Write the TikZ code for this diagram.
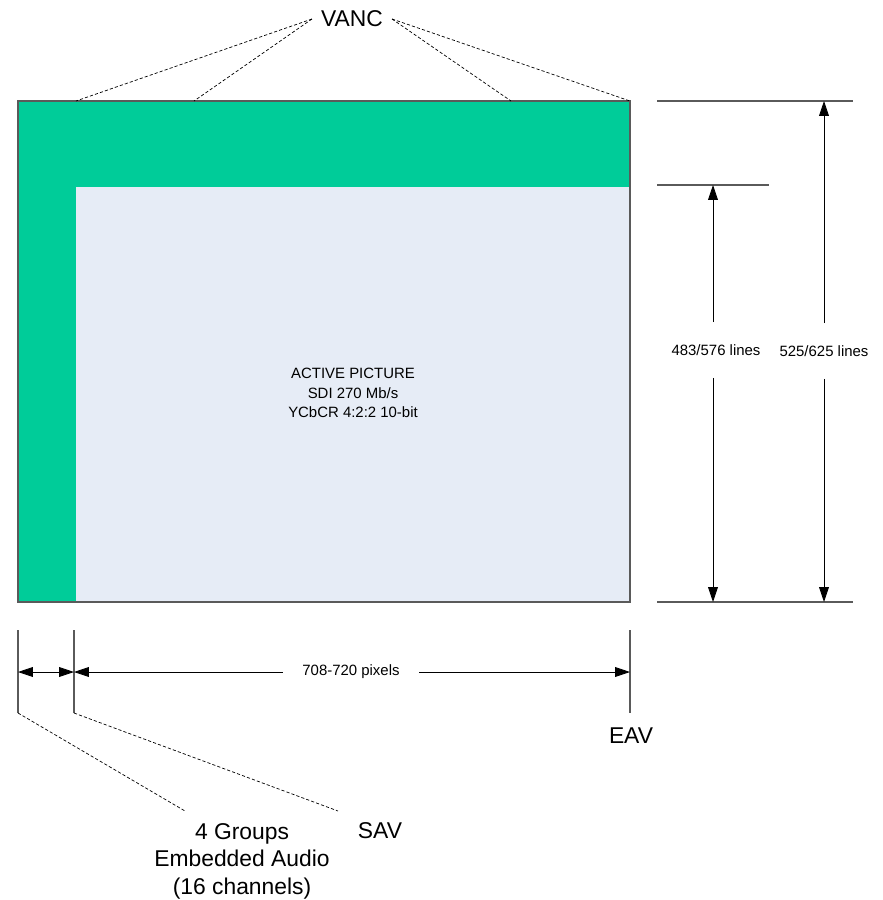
\documentclass[tikz,border=0pt]{standalone}
\usepackage{fontspec}
\setmainfont{Liberation Sans}
\usepackage{tikz}
\usetikzlibrary{arrows.meta}
\definecolor{ancgreen}{RGB}{0,204,153}
\definecolor{activeblue}{RGB}{230,236,246}
\definecolor{framegray}{RGB}{90,90,90}

\begin{document}
\begin{tikzpicture}[x=0.02cm, y=-0.02cm,
    bigtext/.style={font=\fontsize{13}{15.6}\selectfont, align=center},
    smalltext/.style={font=\fontsize{8.5}{11}\selectfont, align=center},
    vlabel/.style={smalltext, inner xsep=2pt, inner ysep=12.5pt},
    hlabel/.style={smalltext, inner xsep=11pt, inner ysep=2pt},
    leader/.style={black, line width=0.4pt, dash pattern=on 1.8pt off 1.2pt},
    extline/.style={framegray, line width=0.6pt},
    dimline/.style={black, line width=0.5pt, {Triangle[length=8.5pt,width=5.6pt]}-{Triangle[length=8.5pt,width=5.6pt]}},
    dimhalf/.style={black, line width=0.5pt, -{Triangle[length=8.5pt,width=5.6pt]}}]
    \useasboundingbox (0,0) rectangle (883,900);

    % Frame
    \fill[activeblue] (76,187) rectangle (630,602);
    \fill[ancgreen] (18,101) rectangle (630,187);
    \fill[ancgreen] (18,187) rectangle (76,601);
    \draw[framegray, line width=0.6pt] (18,101) rectangle (630,602);
    \node[smalltext] (active) at (353,393) {ACTIVE PICTURE\\SDI 270 Mb/s\\YCbCR 4:2:2 10-bit};

    % VANC
    \node[bigtext, inner sep=5pt] (vanc) at (352,19) {VANC};
    \coordinate (v1) at (76,101);
    \coordinate (v2) at (194,101);
    \coordinate (v3) at (511,101);
    \coordinate (v4) at (630,101);
    \draw[leader] (vanc.west) -- (v1);
    \draw[leader] (vanc.west) -- (v2);
    \draw[leader] (vanc.east) -- (v3);
    \draw[leader] (vanc.east) -- (v4);

    % Lines
    \coordinate (topR) at (657,101);
    \coordinate (topRend) at (853,101);
    \coordinate (actR) at (657,185);
    \coordinate (actRend) at (769,185);
    \coordinate (botR) at (657,602);
    \coordinate (botRend) at (853,602);
    \draw[extline] (topR) -- (topRend);
    \draw[extline] (actR) -- (actRend);
    \draw[extline] (botR) -- (botRend);

    \node[vlabel] (lines483) at (716,350) {483/576 lines};
    \node[vlabel] (lines525) at (824,351) {525/625 lines};
    \coordinate (d483t) at (713,185);
    \coordinate (d483b) at (713,602);
    \coordinate (d525t) at (824,101);
    \coordinate (d525b) at (824,602);
    \draw[dimhalf] (lines483.north -| d483t) -- (d483t);
    \draw[dimhalf] (lines483.south -| d483b) -- (d483b);
    \draw[dimhalf] (lines525.north -| d525t) -- (d525t);
    \draw[dimhalf] (lines525.south -| d525b) -- (d525b);

    % Pixels
    \coordinate (tA) at (18,630);
    \coordinate (tAb) at (18,713);
    \coordinate (tB) at (74,630);
    \coordinate (tBb) at (74,713);
    \coordinate (tC) at (630,630);
    \coordinate (tCb) at (630,713);
    \draw[extline] (tA) -- (tAb);
    \draw[extline] (tB) -- (tBb);
    \draw[extline] (tC) -- (tCb);

    \coordinate (a0) at (18,672);
    \coordinate (a1) at (74,672);
    \coordinate (a2) at (630,672);
    \draw[dimline] (a0) -- (a1);
    \node[hlabel] (pixels) at (351,672) {708-720 pixels};
    \draw[dimhalf] (pixels.west |- a1) -- (a1);
    \draw[dimhalf] (pixels.east |- a2) -- (a2);

    % EAV, SAV, audio
    \node[bigtext] (eav) at (631,736) {EAV};
    \node[bigtext] (sav) at (380,831) {SAV};
    \node[bigtext] (audio) at (242,861) {4 Groups\\Embedded Audio\\(16 channels)};
    \coordinate (audioTip) at (185,811);
    \coordinate (savTip) at (338,811);
    \draw[leader] (tAb) -- (audioTip);
    \draw[leader] (tBb) -- (savTip);
\end{tikzpicture}
\end{document}
